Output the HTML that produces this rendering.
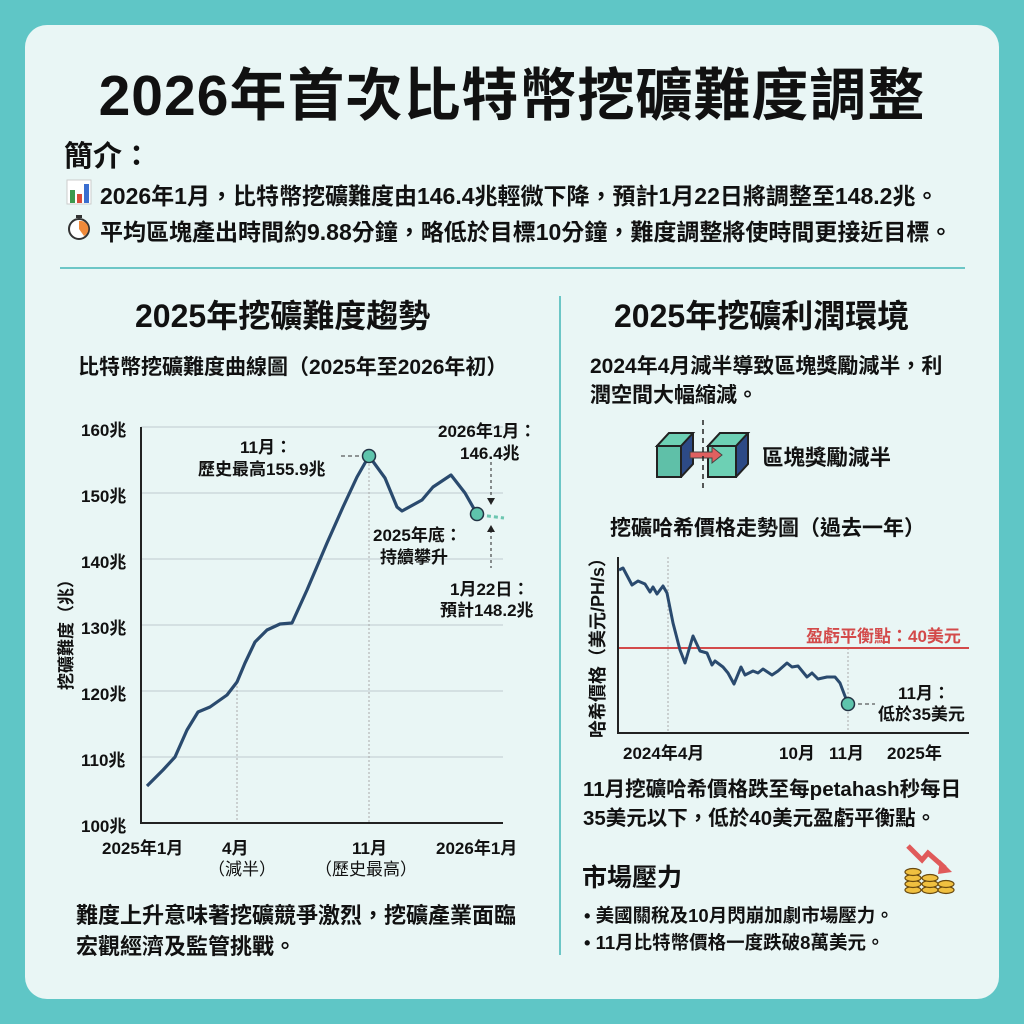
<!DOCTYPE html>
<html><head><meta charset="utf-8"><style>
body{margin:0;width:1024px;height:1024px;background:#5fc6c6;font-family:"Liberation Sans","Noto Sans CJK TC",sans-serif;color:#111;position:relative;overflow:hidden}
.card{position:absolute;left:25px;top:25px;width:974px;height:974px;background:#e9f6f5;border-radius:22px}
.t{position:absolute;white-space:nowrap;font-weight:bold}
</style></head><body>
<div class="card"></div>
<div class="t" style="left:0;width:1024px;text-align:center;top:50px;font-size:57px;letter-spacing:1px">2026年首次比特幣挖礦難度調整</div>
<div class="t" style="left:64px;top:133px;font-size:29px">簡介：</div>
<div class="t" style="left:100px;top:177px;font-size:23px">2026年1月，比特幣挖礦難度由146.4兆輕微下降，預計1月22日將調整至148.2兆。</div>
<div class="t" style="left:100px;top:213px;font-size:23px">平均區塊產出時間約9.88分鐘，略低於目標10分鐘，難度調整將使時間更接近目標。</div>
<svg style="position:absolute;left:0;top:0" width="1024" height="1024">
<rect x="67" y="180" width="24" height="24" fill="#fff" stroke="#ccc"/>
<rect x="70" y="190" width="5" height="13" fill="#3c9a4e"/><rect x="77" y="194" width="5" height="9" fill="#d94a3a"/><rect x="84" y="184" width="5" height="19" fill="#3a6ed0"/>
<circle cx="79" cy="229" r="10" fill="#fff" stroke="#333" stroke-width="2"/><path d="M79 229 L79 221 A8 8 0 0 1 84 236 Z" fill="#f08a3a"/><rect x="76" y="215" width="6" height="3" fill="#333"/>
<line x1="60" y1="268" x2="965" y2="268" stroke="#6cc6c6" stroke-width="2"/>
<line x1="560" y1="296" x2="560" y2="955" stroke="#6cc6c6" stroke-width="2"/>
<g stroke="#c8d4d6" stroke-width="1.2">
<line x1="141" y1="427" x2="503" y2="427"/><line x1="141" y1="493" x2="503" y2="493"/><line x1="141" y1="559" x2="503" y2="559"/><line x1="141" y1="625" x2="503" y2="625"/><line x1="141" y1="691" x2="503" y2="691"/><line x1="141" y1="757" x2="503" y2="757"/></g>
<g stroke="#aaa" stroke-dasharray="2,2"><line x1="237" y1="682" x2="237" y2="823"/><line x1="369" y1="456" x2="369" y2="823"/></g>
<path d="M141 427 V823 H503" fill="none" stroke="#222" stroke-width="2"/>
<polyline fill="none" stroke="#2a4a6e" stroke-width="3.2" stroke-linejoin="round" points="147,786 163,770 175,757 187,730 198,712 210,707 227,695 237,682 245,663 255,642 267,630 280,624 292,623 307,590 327,543 343,507 357,477 369,456 385,478 397,507 402,511 422,500 433,487 451,475 465,493 477,514"/>
<line x1="480" y1="515" x2="504" y2="518" stroke="#6cc6b0" stroke-width="3" stroke-dasharray="4,3"/>
<circle cx="369" cy="456" r="6.5" fill="#5ec4ac" stroke="#234" stroke-width="1.5"/>
<circle cx="477" cy="514" r="6.5" fill="#5ec4ac" stroke="#234" stroke-width="1.5"/>
<line x1="341" y1="456" x2="360" y2="456" stroke="#333" stroke-dasharray="4,3"/>
<g stroke="#222" stroke-dasharray="3,3"><line x1="491" y1="462" x2="491" y2="500"/><line x1="491" y1="530" x2="491" y2="568"/></g>
<path d="M487 498 L491 505 L495 498 Z M487 532 L491 525 L495 532 Z" fill="#222"/>
<path d="M657 446 L669 433 L693 433 L693 464 L681 477 L657 477 Z" fill="#2d4a86" stroke="#222" stroke-width="2"/>
<path d="M657 446 L681 446 L681 477 L657 477 Z" fill="#5fc0a8" stroke="#222" stroke-width="2"/>
<path d="M657 446 L669 433 L693 433 L681 446 Z" fill="#6dd0b4" stroke="#222" stroke-width="2"/>
<path d="M708 446 L720 433 L748 433 L748 464 L736 477 L708 477 Z" fill="#2d4a86" stroke="#222" stroke-width="2"/>
<path d="M708 446 L736 446 L736 477 L708 477 Z M708 446 L720 433 L748 433 L736 446 Z" fill="#6dd0b4" stroke="#222" stroke-width="2"/>
<path d="M690 452 H712 V447 L722 455 L712 463 V458 H690 Z" fill="#e06060" stroke="#444"/>
<line x1="703" y1="420" x2="703" y2="490" stroke="#222" stroke-width="1.5" stroke-dasharray="5,4"/>
<g stroke="#aaa" stroke-dasharray="2,2"><line x1="668" y1="557" x2="668" y2="733"/><line x1="848" y1="648" x2="848" y2="733"/></g>
<line x1="618" y1="648" x2="969" y2="648" stroke="#d34a4a" stroke-width="2"/>
<path d="M618 557 V733 H969" fill="none" stroke="#222" stroke-width="2"/>
<polyline fill="none" stroke="#2a4a6e" stroke-width="3" stroke-linejoin="round" points="619,570 623,568 632,585 638,581 645,584 650,592 653,587 657,594 663,586 667,593 673,623 680,650 685,663 693,636 700,651 707,653 712,665 715,661 723,667 728,673 734,684 741,667 745,675 753,671 758,673 763,669 772,675 778,671 787,663 792,667 798,666 807,677 812,673 818,679 827,677 835,677 840,683 848,704"/>
<circle cx="848" cy="704" r="6.5" fill="#5ec4ac" stroke="#234" stroke-width="1.5"/>
<line x1="858" y1="704" x2="875" y2="704" stroke="#333" stroke-dasharray="4,3"/>
<path d="M908 846 L922 860 L928 853 L945 868" fill="none" stroke="#e05a5a" stroke-width="5"/>
<path d="M940 860 L952 872 L938 874 Z" fill="#e05a5a"/>
<g fill="#f0c040" stroke="#6a4a10" stroke-width="1.2">
<ellipse cx="913" cy="890" rx="8" ry="3.5"/><ellipse cx="913" cy="884" rx="8" ry="3.5"/><ellipse cx="913" cy="878" rx="8" ry="3.5"/><ellipse cx="913" cy="872" rx="8" ry="3.5"/>
<ellipse cx="930" cy="890" rx="8" ry="3.5"/><ellipse cx="930" cy="884" rx="8" ry="3.5"/><ellipse cx="930" cy="878" rx="8" ry="3.5"/>
<ellipse cx="946" cy="890" rx="8" ry="3.5"/><ellipse cx="946" cy="884" rx="8" ry="3.5"/></g>
</svg>
<div class="t" style="left:135px;top:291px;font-size:32px">2025年挖礦難度趨勢</div>
<div class="t" style="left:78px;top:351px;font-size:21px">比特幣挖礦難度曲線圖（2025年至2026年初）</div>
<div style="font-size:17px;font-weight:bold;position:absolute;left:0;top:0">
<div class="t" style="left:81px;top:416px">160兆</div><div class="t" style="left:81px;top:482px">150兆</div><div class="t" style="left:81px;top:548px">140兆</div><div class="t" style="left:81px;top:614px">130兆</div><div class="t" style="left:81px;top:680px">120兆</div><div class="t" style="left:81px;top:746px">110兆</div><div class="t" style="left:81px;top:812px">100兆</div>
<div class="t" style="left:52px;top:690px;transform:rotate(-90deg);transform-origin:0 0">挖礦難度（兆）</div>
<div class="t" style="left:102px;top:834px">2025年1月</div><div class="t" style="left:222px;top:834px">4月</div><div class="t" style="left:208px;top:855px;font-weight:normal">（減半）</div>
<div class="t" style="left:352px;top:834px">11月</div><div class="t" style="left:315px;top:855px;font-weight:normal">（歷史最高）</div><div class="t" style="left:436px;top:834px">2026年1月</div>
<div class="t" style="left:240px;top:433px">11月：</div><div class="t" style="left:198px;top:455px">歷史最高155.9兆</div>
<div class="t" style="left:438px;top:417px">2026年1月：</div><div class="t" style="left:460px;top:439px">146.4兆</div>
<div class="t" style="left:373px;top:521px">2025年底：</div><div class="t" style="left:380px;top:543px">持續攀升</div>
<div class="t" style="left:450px;top:575px">1月22日：</div><div class="t" style="left:440px;top:596px">預計148.2兆</div>
</div>
<div class="t" style="left:76px;top:900px;font-size:22px;line-height:31px">難度上升意味著挖礦競爭激烈，挖礦產業面臨<br>宏觀經濟及監管挑戰。</div>
<div class="t" style="left:614px;top:291px;font-size:32px">2025年挖礦利潤環境</div>
<div class="t" style="left:590px;top:352px;font-size:21px;line-height:29px">2024年4月減半導致區塊獎勵減半，利<br>潤空間大幅縮減。</div>
<div class="t" style="left:762px;top:441px;font-size:21.5px">區塊獎勵減半</div>
<div class="t" style="left:610px;top:512px;font-size:21px">挖礦哈希價格走勢圖（過去一年）</div>
<div style="font-size:17px;font-weight:bold;position:absolute;left:0;top:0">
<div class="t" style="left:584px;top:738px;transform:rotate(-90deg);transform-origin:0 0;font-size:18px">哈希價格（美元/PH/s）</div>
<div class="t" style="left:806px;top:622px;color:#d34a4a">盈虧平衡點：40美元</div>
<div class="t" style="left:898px;top:679px">11月：</div><div class="t" style="left:878px;top:700px">低於35美元</div>
<div class="t" style="left:623px;top:739px">2024年4月</div><div class="t" style="left:779px;top:739px">10月</div><div class="t" style="left:829px;top:739px">11月</div><div class="t" style="left:887px;top:739px">2025年</div>
</div>
<div class="t" style="left:583px;top:775px;font-size:20.5px;line-height:29px">11月挖礦哈希價格跌至每petahash秒每日<br>35美元以下，低於40美元盈虧平衡點。</div>
<div class="t" style="left:582px;top:858px;font-size:25px">市場壓力</div>
<div class="t" style="left:584px;top:902px;font-size:18.5px;line-height:27px">• 美國關稅及10月閃崩加劇市場壓力。<br>• 11月比特幣價格一度跌破8萬美元。</div>
</body></html>
